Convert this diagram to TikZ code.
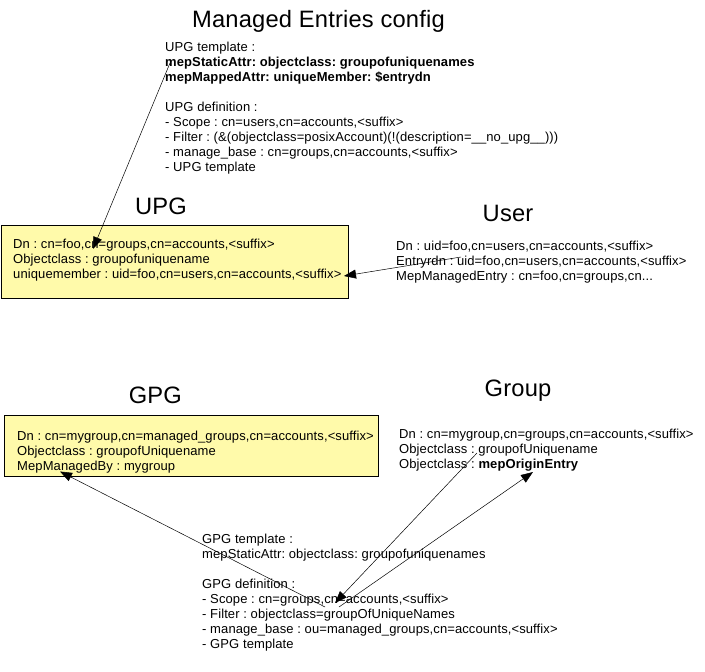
\documentclass[tikz,border=0pt]{standalone}
\usepackage{fontspec}
\setmainfont[LetterSpace=0.8]{Liberation Sans}
\usepackage{tikz}
\usetikzlibrary{positioning,arrows.meta}
\definecolor{boxfill}{RGB}{255,250,170}
\frenchspacing

\begin{document}
\begin{tikzpicture}[x=1pt, y=-1pt]
	% Define styles for boxes and texts
	\tikzset{
		box/.style={
			rectangle,
			draw,
			fill=boxfill,
			line width=0.8pt,
			anchor=north west
		},
		info/.style={
			inner sep=0pt,
			anchor=north west,
			align=left,
			font=\fontsize{13}{15}\selectfont
		},
		title/.style={
			inner sep=0pt,
			anchor=base,
			font=\fontsize{23.7}{27}\selectfont
		},
		arrow/.style={
			-{Triangle[length=12pt,width=9pt]},
			line width=0.5pt
		}
	}
	\useasboundingbox (0,0) rectangle (705,672);

	% Config for user private groups
	\node[title] (mainttl) at (318.5,27) {Managed Entries config};
	\node[info] (upgconf) at (165,42) {UPG template :\\
		\textbf{mepStaticAttr: objectclass: groupofuniquenames}\\
		\textbf{mepMappedAttr: uniqueMember: \$entrydn}\\[15pt]
		UPG definition :\\
		- Scope : cn=users,cn=accounts,<suffix>\\
		- Filter : (\&(objectclass=posixAccount)(!(description=\_\_no\_upg\_\_)))\\
		- manage\_base : cn=groups,cn=accounts,<suffix>\\
		- UPG template};

	% UPG box and user entry
	\node[box, minimum width=347pt, minimum height=73pt] (upgbox) at (1,225) {};
	\node[info, below right=14pt and 12pt of upgbox.north west] (upginfo) {Dn : cn=foo,cn=groups,cn=accounts,<suffix>\\
		Objectclass : groupofuniquename\\
		uniquemember : uid=foo,cn=users,cn=accounts,<suffix>};
	\node[title, above=10pt of upgbox.north, xshift=-14pt] (upgttl) {UPG};
	\node[info] (user) at (396,241) {Dn : uid=foo,cn=users,cn=accounts,<suffix>\\
		Entryrdn : uid=foo,cn=users,cn=accounts,<suffix>\\
		MepManagedEntry : cn=foo,cn=groups,cn...};
	\node[title] (userttl) at (508,221) {User};

	% GPG box and group entry
	\node[box, minimum width=374pt, minimum height=61pt] (gpgbox) at (4,415) {};
	\node[info, below right=15.5pt and 13pt of gpgbox.north west] (gpginfo) {Dn : cn=mygroup,cn=managed\_groups,cn=accounts,<suffix>\\
		Objectclass : groupofUniquename\\
		MepManagedBy : mygroup};
	\node[title, above=11pt of gpgbox.north, xshift=-36pt] (gpgttl) {GPG};
	\node[info] (group) at (399,429) {Dn : cn=mygroup,cn=groups,cn=accounts,<suffix>\\
		Objectclass : groupofUniquename\\
		Objectclass : \textbf{mepOriginEntry}};
	\node[title] (groupttl) at (518,396) {Group};

	% Config for group private groups
	\node[info] (gpgconf) at (202,534) {GPG template :\\
		mepStaticAttr: objectclass: groupofuniquenames\\[15pt]
		GPG definition :\\
		- Scope : cn=groups,cn=accounts,<suffix>\\
		- Filter : objectclass=groupOfUniqueNames\\
		- manage\_base : ou=managed\_groups,cn=accounts,<suffix>\\
		- GPG template};

	% Arrows
	\draw[arrow] ([shift={(5,21)}]upgconf.north west) -- ([shift={(80,10)}]upginfo.north west);
	\draw[arrow] ([shift={(65,16)}]user.north west) -- ([shift={(331,37)}]upginfo.north west);
	\draw[arrow] ([shift={(123,73)}]gpgconf.north west) -- ([shift={(43,41)}]gpginfo.north west);
	\draw[arrow] ([shift={(78,24)}]group.north west) -- ([shift={(133,69)}]gpgconf.north west);
	\draw[arrow] ([shift={(137,73)}]gpgconf.north west) -- ([shift={(134,43)}]group.north west);
\end{tikzpicture}
\end{document}
